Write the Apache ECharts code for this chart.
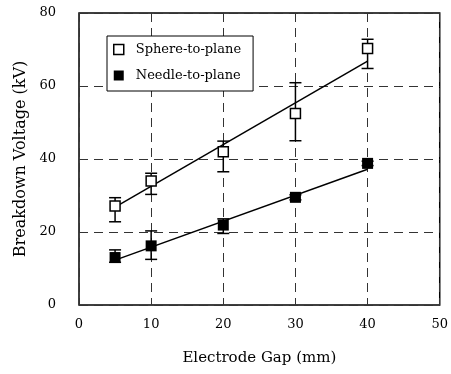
<!DOCTYPE html>
<html><head><meta charset="utf-8">
<script src="https://cdn.jsdelivr.net/npm/echarts@6/dist/echarts.min.js"></script>
<style>html,body{margin:0;padding:0;background:#fff}#c{width:451px;height:374px}</style>
</head><body><div id="c"></div>
<script>
var gaps = [5, 10, 20, 30, 40];
var sphereMean = [27.1, 34.0, 42.0, 52.5, 70.3];
var sphereLow = [22.8, 30.3, 36.5, 45.0, 64.8];
var sphereHigh = [29.4, 36.1, 44.9, 60.9, 72.8];
var needleMean = [13.0, 16.2, 21.9, 29.5, 38.8];
var needleLow = [11.7, 12.5, 19.6, 28.8, 38.2];
var needleHigh = [15.1, 20.3, 23.6, 30.2, 39.4];
var fitX = [5, 40];
var sphereFit = [26.8, 66.8];
var needleFit = [12.3, 37.2];

function pairs(xs, ys){ return xs.map(function(x,i){return [x, ys[i]];}); }
function errData(lo, hi){ return gaps.map(function(x,i){return [x, lo[i], hi[i]];}); }
function errRender(params, api){
  var x = api.value(0);
  var lo = api.coord([x, api.value(1)]);
  var hi = api.coord([x, api.value(2)]);
  var hw = 6;
  var st = {stroke:'#000', lineWidth:1.5};
  return {type:'group', children:[
    {type:'line', shape:{x1:lo[0],y1:lo[1],x2:hi[0],y2:hi[1]}, style:st},
    {type:'line', shape:{x1:lo[0]-hw,y1:lo[1],x2:lo[0]+hw,y2:lo[1]}, style:st},
    {type:'line', shape:{x1:hi[0]-hw,y1:hi[1],x2:hi[0]+hw,y2:hi[1]}, style:st}
  ]};
}
var font = 'DejaVu Serif, serif';
var chart = echarts.init(document.getElementById('c'));
chart.setOption({
  animation:false,
  grid:{left:79, right:8, top:13, bottom:69, show:true, borderColor:'#000', borderWidth:1.5},
  xAxis:{type:'value', min:0, max:50, interval:10,
    name:'Electrode Gap (mm)', nameLocation:'middle', nameGap:46,
    nameTextStyle:{fontFamily:font, fontSize:15, color:'#000'},
    axisLine:{show:false}, axisTick:{show:false},
    axisLabel:{fontFamily:font, fontSize:13, color:'#000', margin:13},
    splitLine:{show:true, lineStyle:{type:[9,6], color:'#333', width:1}}},
  yAxis:{type:'value', min:0, max:80, interval:20,
    name:'Breakdown Voltage (kV)', nameLocation:'middle', nameGap:48,
    nameTextStyle:{fontFamily:font, fontSize:16, color:'#000'},
    axisLine:{show:false}, axisTick:{show:false},
    axisLabel:{fontFamily:font, fontSize:13, color:'#000', margin:23},
    splitLine:{show:true, lineStyle:{type:[9,6], color:'#333', width:1}}},
  legend:{orient:'vertical', left:107, top:36,
    borderColor:'#000', borderWidth:1, padding:[7,12,9,6], itemGap:13,
    itemWidth:10, itemHeight:10, backgroundColor:'#fff',
    textStyle:{fontFamily:font, fontSize:13, color:'#000', padding:[0,0,0,7]},
    data:[{name:'Sphere-to-plane', icon:'rect', itemStyle:{color:'#fff', borderColor:'#000', borderWidth:1.5}},
          {name:'Needle-to-plane', icon:'rect', itemStyle:{color:'#000', borderColor:'#000', borderWidth:0}}]},
  series:[
    {type:'line', data:pairs(fitX, sphereFit), symbol:'none', lineStyle:{color:'#000', width:1.5}, silent:true, z:2},
    {type:'line', data:pairs(fitX, needleFit), symbol:'none', lineStyle:{color:'#000', width:1.5}, silent:true, z:2},
    {type:'custom', data:errData(sphereLow, sphereHigh), renderItem:errRender, z:3},
    {type:'custom', data:errData(needleLow, needleHigh), renderItem:errRender, z:3},
    {name:'Sphere-to-plane', type:'scatter', data:pairs(gaps, sphereMean), symbol:'rect', symbolSize:10,
      itemStyle:{color:'#fff', borderColor:'#000', borderWidth:1.5, opacity:1}, z:5},
    {name:'Needle-to-plane', type:'scatter', data:pairs(gaps, needleMean), symbol:'rect', symbolSize:11,
      itemStyle:{color:'#000', borderColor:'#000', borderWidth:0, opacity:1}, z:5}
  ]
});
</script></body></html>
